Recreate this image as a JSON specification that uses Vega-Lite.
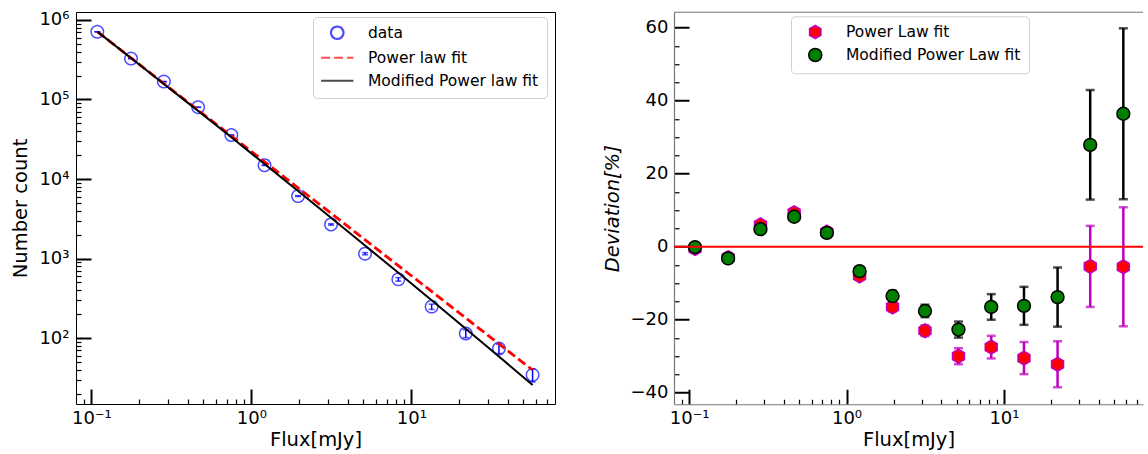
{
  "$schema": "https://vega.github.io/schema/vega-lite/v6.json",
  "background": "white",
  "padding": {"left": 10, "top": 10, "right": 0, "bottom": 3},
  "config": {
    "font": "DejaVu Sans",
    "view": {"stroke": null},
    "axis": {
      "labelFont": "DejaVu Sans", "titleFont": "DejaVu Sans",
      "labelFontSize": 18, "titleFontSize": 19.5, "titleFontWeight": "normal",
      "labelColor": "black", "titleColor": "black", "tickColor": "black",
      "grid": false, "labelFlush": false, "labelOverlap": false, "zindex": 1
    },
    "legend": {
      "labelFont": "DejaVu Sans", "labelFontSize": 15.5, "labelColor": "black", "labelLimit": 400,
      "strokeColor": "#d0d0d0", "fillColor": "white", "cornerRadius": 4, "padding": 8
    }
  },
  "datasets": {
    "counts": [
      {"flux": 0.109, "n": 710000, "lo": 709160, "hi": 710840, "series": "data"},
      {"flux": 0.177, "n": 327000, "lo": 326430, "hi": 327570, "series": "data"},
      {"flux": 0.284, "n": 168000, "lo": 167590, "hi": 168410, "series": "data"},
      {"flux": 0.465, "n": 80000, "lo": 79717, "hi": 80283, "series": "data"},
      {"flux": 0.75, "n": 35700, "lo": 35511, "hi": 35889, "series": "data"},
      {"flux": 1.21, "n": 14900, "lo": 14778, "hi": 15022, "series": "data"},
      {"flux": 1.96, "n": 6100, "lo": 6022, "hi": 6178, "series": "data"},
      {"flux": 3.15, "n": 2680, "lo": 2628, "hi": 2732, "series": "data"},
      {"flux": 5.14, "n": 1150, "lo": 1114, "hi": 1186, "series": "data"},
      {"flux": 8.3, "n": 547, "lo": 519, "hi": 575, "series": "data"},
      {"flux": 13.4, "n": 248, "lo": 229, "hi": 267, "series": "data"},
      {"flux": 21.9, "n": 114, "lo": 101, "hi": 127, "series": "data"},
      {"flux": 35.3, "n": 73.8, "lo": 63.8, "hi": 83.8, "series": "data"},
      {"flux": 57.3, "n": 34.4, "lo": 28.0, "hi": 40.8, "series": "data"}
    ],
    "fits": [
      {"flux": 0.109, "fit": "Power law fit", "value": 713000},
      {"flux": 0.177, "fit": "Power law fit", "value": 332700},
      {"flux": 0.284, "fit": "Power law fit", "value": 158500},
      {"flux": 0.465, "fit": "Power law fit", "value": 73600},
      {"flux": 0.75, "fit": "Power law fit", "value": 34800},
      {"flux": 1.21, "fit": "Power law fit", "value": 16480},
      {"flux": 1.96, "fit": "Power law fit", "value": 7760},
      {"flux": 3.15, "fit": "Power law fit", "value": 3700},
      {"flux": 5.14, "fit": "Power law fit", "value": 1718},
      {"flux": 8.3, "fit": "Power law fit", "value": 813},
      {"flux": 13.4, "fit": "Power law fit", "value": 385},
      {"flux": 21.9, "fit": "Power law fit", "value": 179},
      {"flux": 35.3, "fit": "Power law fit", "value": 84.5},
      {"flux": 57.3, "fit": "Power law fit", "value": 39.6},
      {"flux": 0.109, "fit": "Modified Power law fit", "value": 713000},
      {"flux": 0.177, "fit": "Modified Power law fit", "value": 331900},
      {"flux": 0.284, "fit": "Modified Power law fit", "value": 156900},
      {"flux": 0.465, "fit": "Modified Power law fit", "value": 71940},
      {"flux": 0.75, "fit": "Modified Power law fit", "value": 33440},
      {"flux": 1.21, "fit": "Modified Power law fit", "value": 15460},
      {"flux": 1.96, "fit": "Modified Power law fit", "value": 7077},
      {"flux": 3.15, "fit": "Modified Power law fit", "value": 3264},
      {"flux": 5.14, "fit": "Modified Power law fit", "value": 1458},
      {"flux": 8.3, "fit": "Modified Power law fit", "value": 660.6},
      {"flux": 13.4, "fit": "Modified Power law fit", "value": 297.9},
      {"flux": 21.9, "fit": "Modified Power law fit", "value": 131.0},
      {"flux": 35.3, "fit": "Modified Power law fit", "value": 58.45},
      {"flux": 57.3, "fit": "Modified Power law fit", "value": 25.7}
    ],
    "dev": [
      {"flux": 0.109, "model": "Power Law fit", "dev": -0.5, "lo": -1.0, "hi": 0.0},
      {"flux": 0.177, "model": "Power Law fit", "dev": -3.0, "lo": -3.5, "hi": -2.5},
      {"flux": 0.284, "model": "Power Law fit", "dev": 6.0, "lo": 5.4, "hi": 6.6},
      {"flux": 0.465, "model": "Power Law fit", "dev": 9.3, "lo": 8.6, "hi": 10.0},
      {"flux": 0.75, "model": "Power Law fit", "dev": 4.0, "lo": 3.2, "hi": 4.8},
      {"flux": 1.21, "model": "Power Law fit", "dev": -8.0, "lo": -9.0, "hi": -7.0},
      {"flux": 1.96, "model": "Power Law fit", "dev": -16.5, "lo": -17.7, "hi": -15.3},
      {"flux": 3.15, "model": "Power Law fit", "dev": -23.0, "lo": -24.5, "hi": -21.5},
      {"flux": 5.14, "model": "Power Law fit", "dev": -30.0, "lo": -32.2, "hi": -27.8},
      {"flux": 8.3, "model": "Power Law fit", "dev": -27.5, "lo": -30.6, "hi": -24.4},
      {"flux": 13.4, "model": "Power Law fit", "dev": -30.5, "lo": -34.9, "hi": -26.1},
      {"flux": 21.9, "model": "Power Law fit", "dev": -32.2, "lo": -38.5, "hi": -25.9},
      {"flux": 35.3, "model": "Power Law fit", "dev": -5.4, "lo": -16.5, "hi": 5.7},
      {"flux": 57.3, "model": "Power Law fit", "dev": -5.5, "lo": -21.8, "hi": 10.8},
      {"flux": 0.109, "model": "Modified Power Law fit", "dev": -0.1, "lo": -0.6, "hi": 0.4},
      {"flux": 0.177, "model": "Modified Power Law fit", "dev": -3.2, "lo": -3.8, "hi": -2.6},
      {"flux": 0.284, "model": "Modified Power Law fit", "dev": 4.8, "lo": 4.1, "hi": 5.5},
      {"flux": 0.465, "model": "Modified Power Law fit", "dev": 8.2, "lo": 7.4, "hi": 9.0},
      {"flux": 0.75, "model": "Modified Power Law fit", "dev": 3.8, "lo": 2.8, "hi": 4.8},
      {"flux": 1.21, "model": "Modified Power Law fit", "dev": -6.7, "lo": -7.8, "hi": -5.6},
      {"flux": 1.96, "model": "Modified Power Law fit", "dev": -13.5, "lo": -14.9, "hi": -12.1},
      {"flux": 3.15, "model": "Modified Power Law fit", "dev": -17.6, "lo": -19.3, "hi": -15.9},
      {"flux": 5.14, "model": "Modified Power Law fit", "dev": -22.7, "lo": -24.9, "hi": -20.5},
      {"flux": 8.3, "model": "Modified Power Law fit", "dev": -16.5, "lo": -20.0, "hi": -13.0},
      {"flux": 13.4, "model": "Modified Power Law fit", "dev": -16.2, "lo": -21.4, "hi": -11.0},
      {"flux": 21.9, "model": "Modified Power Law fit", "dev": -13.8, "lo": -21.9, "hi": -5.7},
      {"flux": 35.3, "model": "Modified Power Law fit", "dev": 27.9, "lo": 12.9, "hi": 42.9},
      {"flux": 57.3, "model": "Modified Power Law fit", "dev": 36.4, "lo": 13.0, "hi": 59.8}
    ]
  },
  "resolve": {"scale": {"shape": "independent", "color": "independent", "strokeDash": "independent", "fill": "independent", "stroke": "independent"}},
  "spacing": 46,
  "center": true,
  "hconcat": [
    {
      "width": 479,
      "height": 392,
      "view": {"stroke": "black", "strokeWidth": 1},
      "resolve": {"axis": {"x": "independent", "y": "independent"}},
      "layer": [
        {
          "data": {"name": "counts"},
          "mark": {"type": "errorbar", "ticks": true, "size": 6, "thickness": 1.5, "color": "#0000ff"},
          "encoding": {
            "x": {"field": "flux", "type": "quantitative",
                  "scale": {"type": "log", "domain": [0.0802, 79.1], "nice": false}, "axis": null},
            "y": {"field": "lo", "type": "quantitative",
                  "scale": {"type": "log", "domain": [14.8, 1260000], "nice": false}, "axis": null},
            "y2": {"field": "hi"}
          }
        },
        {
          "data": {"name": "counts"},
          "mark": {"type": "point", "filled": false, "size": 154, "strokeWidth": 1.5},
          "encoding": {
            "x": {
              "field": "flux", "type": "quantitative",
              "axis": {
                "orient": "bottom", "title": "Flux[mJy]", "values": [0.1, 1, 10],
                "labelExpr": "datum.value == 0.1 ? '10⁻¹' : datum.value == 1 ? '10⁰' : datum.value == 10 ? '10¹' : ''",
                "tickSize": -15, "tickWidth": 2, "domain": false, "labelPadding": 20, "titlePadding": 3
              }
            },
            "y": {
              "field": "n", "type": "quantitative",
              "axis": {
                "orient": "left", "title": "Number count", "values": [100, 1000, 10000, 100000, 1000000],
                "labelExpr": "datum.value == 100 ? '10²' : datum.value == 1000 ? '10³' : datum.value == 10000 ? '10⁴' : datum.value == 100000 ? '10⁵' : '10⁶'",
                "tickSize": -15, "tickWidth": 2, "domain": false, "labelPadding": 22, "titlePadding": 8
              }
            },
            "color": {
              "field": "series", "type": "nominal",
              "scale": {"domain": ["data", "Power law fit", "Modified Power law fit"], "range": ["#0000ff", "#ff0000", "#000000"]},
              "legend": {"title": null, "orient": "none", "legendX": 237, "legendY": 5, "symbolSize": 154, "symbolStrokeWidth": 2.2, "symbolOffset": 8.5, "labelOffset": 23, "rowPadding": 6}
            },
            "shape": {
              "field": "series", "type": "nominal",
              "scale": {"domain": ["data", "Power law fit", "Modified Power law fit"], "range": ["circle", "M-2.6,0L2.6,0", "M-2.6,0L2.6,0"]},
              "legend": {"title": null, "orient": "none", "legendX": 237, "legendY": 5, "symbolSize": 154, "symbolStrokeWidth": 2.2, "symbolOffset": 8.5, "labelOffset": 23, "rowPadding": 6}
            },
            "strokeDash": {
              "field": "series", "type": "nominal",
              "scale": {"domain": ["data", "Power law fit", "Modified Power law fit"], "range": [[1, 0], [9, 4], [1, 0]]},
              "legend": {"title": null, "orient": "none", "legendX": 237, "legendY": 5, "symbolSize": 154, "symbolStrokeWidth": 2.2, "symbolOffset": 8.5, "labelOffset": 23, "rowPadding": 6}
            }
          }
        },
        {
          "data": {"name": "fits"},
          "transform": [{"filter": "datum.fit == 'Power law fit'"}],
          "mark": {"type": "line", "color": "#ff0000", "strokeWidth": 2.8, "strokeDash": [9, 4]},
          "encoding": {
            "x": {
              "field": "flux", "type": "quantitative",
              "axis": {
                "orient": "bottom", "title": null, "labels": false, "domain": false,
                "values": [0.09, 0.2, 0.3, 0.4, 0.5, 0.6, 0.7, 0.8, 0.9, 2, 3, 4, 5, 6, 7, 8, 9, 20, 30, 40, 50, 60, 70],
                "tickSize": -5, "tickWidth": 1.2
              }
            },
            "y": {
              "field": "value", "type": "quantitative",
              "axis": {
                "orient": "left", "title": null, "labels": false, "domain": false,
                "values": [20, 30, 40, 50, 60, 70, 80, 90, 200, 300, 400, 500, 600, 700, 800, 900, 2000, 3000, 4000, 5000, 6000, 7000, 8000, 9000, 20000, 30000, 40000, 50000, 60000, 70000, 80000, 90000, 200000, 300000, 400000, 500000, 600000, 700000, 800000, 900000],
                "tickSize": -5, "tickWidth": 1.2
              }
            }
          }
        },
        {
          "data": {"name": "fits"},
          "transform": [{"filter": "datum.fit == 'Modified Power law fit'"}],
          "mark": {"type": "line", "color": "#000000", "strokeWidth": 2},
          "encoding": {
            "x": {"field": "flux", "type": "quantitative", "axis": null},
            "y": {"field": "value", "type": "quantitative", "axis": null}
          }
        }
      ]
    },
    {
      "width": 469,
      "height": 392,
      "resolve": {"axis": {"x": "independent", "y": "independent"}},
      "layer": [
        {
          "data": {"name": "dev"},
          "transform": [{"filter": "datum.model == 'Power Law fit'"}],
          "mark": {"type": "errorbar", "ticks": true, "size": 9, "thickness": 2.5, "color": "#bf00bf"},
          "encoding": {
            "x": {"field": "flux", "type": "quantitative",
                  "scale": {"type": "log", "domain": [0.0802, 76.4], "nice": false},
                  "axis": {
                    "orient": "bottom", "title": null, "labels": false, "domain": false,
                    "values": [0.09, 0.2, 0.3, 0.4, 0.5, 0.6, 0.7, 0.8, 0.9, 2, 3, 4, 5, 6, 7, 8, 9, 20, 30, 40, 50, 60, 70],
                    "tickSize": -5, "tickWidth": 1.2
                  }},
            "y": {"field": "lo", "type": "quantitative",
                  "scale": {"domain": [-43.15, 64.2], "nice": false, "zero": false},
                  "axis": {
                    "orient": "left", "title": null, "labels": false, "domain": false,
                    "values": [-35, -30, -25, -15, -10, -5, 5, 10, 15, 25, 30, 35, 45, 50, 55],
                    "tickSize": -5, "tickWidth": 1.2
                  }},
            "y2": {"field": "hi"}
          }
        },
        {
          "data": {"name": "dev"},
          "transform": [{"filter": "datum.model == 'Power Law fit'"}],
          "mark": {"type": "point", "filled": true, "opacity": 1, "size": 190, "strokeWidth": 1.5},
          "encoding": {
            "x": {
              "field": "flux", "type": "quantitative",
              "axis": {
                "orient": "bottom", "title": "Flux[mJy]", "values": [0.1, 1, 10],
                "labelExpr": "datum.value == 0.1 ? '10⁻¹' : datum.value == 1 ? '10⁰' : datum.value == 10 ? '10¹' : ''",
                "tickSize": -15, "tickWidth": 2, "domain": true, "domainColor": "#777777", "domainWidth": 1.2,
                "labelPadding": 20, "titlePadding": 3
              }
            },
            "y": {
              "field": "dev", "type": "quantitative",
              "axis": {
                "orient": "left", "title": "Deviation[%]", "titleFontStyle": "italic",
                "values": [-40, -20, 0, 20, 40, 60],
                "tickSize": -15, "tickWidth": 2, "domain": true, "domainColor": "#777777", "domainWidth": 1.2,
                "labelPadding": 21, "titlePadding": 8
              }
            },
            "fill": {
              "field": "model", "type": "nominal",
              "scale": {"domain": ["Power Law fit", "Modified Power Law fit"], "range": ["#ff0000", "#008000"]},
              "legend": {"title": null, "orient": "none", "legendX": 117, "legendY": 4, "symbolSize": 170, "symbolStrokeWidth": 1.5, "symbolOffset": 8.5, "labelOffset": 23, "rowPadding": 3}
            },
            "stroke": {
              "field": "model", "type": "nominal",
              "scale": {"domain": ["Power Law fit", "Modified Power Law fit"], "range": ["#bf00bf", "#000000"]},
              "legend": {"title": null, "orient": "none", "legendX": 117, "legendY": 4, "symbolSize": 170, "symbolStrokeWidth": 1.5, "symbolOffset": 8.5, "labelOffset": 23, "rowPadding": 3}
            },
            "shape": {
              "field": "model", "type": "nominal",
              "scale": {"domain": ["Power Law fit", "Modified Power Law fit"], "range": ["M0,-1L0.866,-0.5L0.866,0.5L0,1L-0.866,0.5L-0.866,-0.5Z", "circle"]},
              "legend": {"title": null, "orient": "none", "legendX": 117, "legendY": 4, "symbolSize": 170, "symbolStrokeWidth": 1.5, "symbolOffset": 8.5, "labelOffset": 23, "rowPadding": 3}
            }
          }
        },
        {
          "data": {"name": "dev"},
          "transform": [{"filter": "datum.model == 'Modified Power Law fit'"}],
          "mark": {"type": "errorbar", "ticks": true, "size": 9, "thickness": 2.5, "color": "#000000"},
          "encoding": {
            "x": {"field": "flux", "type": "quantitative", "axis": null},
            "y": {"field": "lo", "type": "quantitative", "axis": null},
            "y2": {"field": "hi"}
          }
        },
        {
          "data": {"name": "dev"},
          "transform": [{"filter": "datum.model == 'Modified Power Law fit'"}],
          "mark": {"type": "point", "filled": true, "opacity": 1, "size": 165, "strokeWidth": 1.5},
          "encoding": {
            "x": {"field": "flux", "type": "quantitative", "axis": null},
            "y": {"field": "dev", "type": "quantitative", "axis": null},
            "fill": {"field": "model", "type": "nominal"},
            "stroke": {"field": "model", "type": "nominal"},
            "shape": {"field": "model", "type": "nominal"}
          }
        },
        {
          "data": {"values": [{"level": 0}]},
          "mark": {"type": "rule", "color": "#ff0000", "strokeWidth": 2},
          "encoding": {"y": {"field": "level", "type": "quantitative", "axis": null}}
        },
        {
          "data": {"values": [{"level": 64.2}]},
          "mark": {"type": "rule", "color": "#777777", "strokeWidth": 1.2},
          "encoding": {"y": {"field": "level", "type": "quantitative", "axis": null}}
        }
      ]
    }
  ]
}
